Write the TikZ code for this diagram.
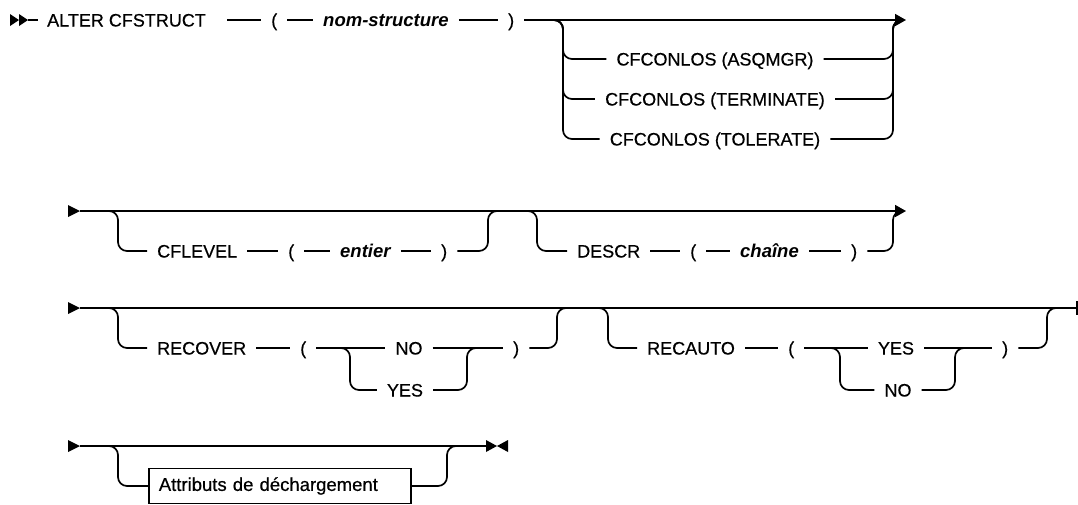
\documentclass[tikz,border=0pt]{standalone}
\usepackage{fontspec}
\setmainfont{Liberation Sans}
\newfontfamily\diagfont{Liberation Sans}[FakeBold=0.5]
\usetikzlibrary{arrows.meta}
\begin{document}
\begin{tikzpicture}[x=1pt,y=-1pt,
  ln/.style={line width=1.7pt, rounded corners=9pt},
  kw/.style={inner sep=0pt, anchor=west, font=\diagfont\fontsize{18}{20}\selectfont, text height=13pt, text depth=0pt},
  var/.style={kw, font=\fontsize{18.5}{20}\selectfont\bfseries\itshape},
  opt/.style={kw, anchor=center},
  sep/.style={ln, shorten <=10pt, shorten >=10pt},
  endarrow/.style={ln, -{Triangle[length=11pt,width=12pt]}},
  boxnode/.style={draw, line width=1.7pt, anchor=west, minimum height=35pt, text width=242pt, inner xsep=10pt, inner ysep=0pt, font=\diagfont\fontsize{18.5}{20}\selectfont}
]
\useasboundingbox (0,0) rectangle (1078,504);
% ---------- row 1
\fill (10,14) -- (19,20) -- (10,26) -- cycle;
\fill (19,14) -- (28,20) -- (19,26) -- cycle;
\coordinate (s1) at (28,20);
\coordinate (s1e) at (38,20);
\draw[ln] (s1) -- (s1e);
\node[kw] (alter) at (47,20) {ALTER CFSTRUCT};
\node[kw] (lp1) at (271,20) {(};
\node[var] (nom) at (323,20) {nom-structure};
\node[kw] (rp1) at (508,20) {)};
\coordinate (e1) at (906,20);
\draw[ln, shorten <=21pt, shorten >=10pt] (alter.east) -- (lp1.west);
\draw[sep] (lp1.east) -- (nom.west);
\draw[sep] (nom.east) -- (rp1.west);
\draw[endarrow, shorten <=10pt] (rp1.east) -- (e1);
\node[opt] (o1) at (715,59) {CFCONLOS (ASQMGR)};
\node[opt] (o2) at (715,99) {CFCONLOS (TERMINATE)};
\node[opt] (o3) at (715,139) {CFCONLOS (TOLERATE)};
\coordinate (b1) at (543,20);
\coordinate (j1) at (903,20);
\foreach \o/\y in {o1/59,o2/99,o3/139}{
  \draw[ln, shorten >=10pt] (b1) -| (563,\y) -- (\o.west);
  \draw[ln, shorten <=10pt] (\o.east) -| (893,20) -- (j1);
}
% ---------- row 2
\fill (68,205) -- (80,211) -- (68,217) -- cycle;
\coordinate (s2) at (80,211);
\coordinate (e2) at (906,211);
\draw[endarrow] (s2) -- (e2);
\node[kw] (cfl) at (157,251) {CFLEVEL};
\node[kw] (lp2) at (288,251) {(};
\node[var] (ent) at (340,251) {entier};
\node[kw] (rp2) at (441,251) {)};
\draw[ln, shorten >=10pt] (98,211) -| (118,251) -- (cfl.west);
\draw[sep] (cfl.east) -- (lp2.west);
\draw[sep] (lp2.east) -- (ent.west);
\draw[sep] (ent.east) -- (rp2.west);
\draw[ln, shorten <=10pt] (rp2.east) -| (488,211) -- (500,211);
\node[kw] (descr) at (577,251) {DESCR};
\node[kw] (lp3) at (690,251) {(};
\node[var] (ch) at (740,251) {chaîne};
\node[kw] (rp3) at (851,251) {)};
\draw[ln, shorten >=10pt] (517,211) -| (537,251) -- (descr.west);
\draw[sep] (descr.east) -- (lp3.west);
\draw[sep] (lp3.east) -- (ch.west);
\draw[sep] (ch.east) -- (rp3.west);
\draw[ln, shorten <=10pt] (rp3.east) -| (893,211) -- (903,211);
% ---------- row 3
\fill (68,302) -- (80,308) -- (68,314) -- cycle;
\coordinate (s3) at (80,308);
\coordinate (e3) at (1077,308);
\draw[ln] (s3) -- (e3);
\draw[line width=2pt] (1077,301) -- (1077,315);
\node[kw] (recover) at (157,348) {RECOVER};
\node[kw] (lp4) at (300,348) {(};
\node[opt] (no1) at (409,348) {NO};
\node[opt] (yes1) at (405,390) {YES};
\node[kw] (rp4) at (513,348) {)};
\draw[ln, shorten >=10pt] (98,308) -| (118,348) -- (recover.west);
\draw[sep] (recover.east) -- (lp4.west);
\draw[sep] (lp4.east) -- (no1.west);
\draw[ln, shorten >=10pt] (338,348) -| (350,390) -- (yes1.west);
\draw[sep] (no1.east) -- (rp4.west);
\draw[ln, shorten <=10pt] (yes1.east) -| (467,348) -- (479,348);
\draw[ln, shorten <=10pt] (rp4.east) -| (557,308) -- (570,308);
\node[kw] (recauto) at (647,348) {RECAUTO};
\node[kw] (lp5) at (788,348) {(};
\node[opt] (yes2) at (896,348) {YES};
\node[opt] (no2) at (898,390) {NO};
\node[kw] (rp5) at (1002,348) {)};
\draw[ln, shorten >=10pt] (588,308) -| (608,348) -- (recauto.west);
\draw[sep] (recauto.east) -- (lp5.west);
\draw[sep] (lp5.east) -- (yes2.west);
\draw[ln, shorten >=10pt] (828,348) -| (840,390) -- (no2.west);
\draw[sep] (yes2.east) -- (rp5.west);
\draw[ln, shorten <=10pt] (no2.east) -| (955,348) -- (967,348);
\draw[ln, shorten <=10pt] (rp5.east) -| (1047,308) -- (1060,308);
% ---------- row 4
\fill (68,440) -- (80,446) -- (68,452) -- cycle;
\coordinate (s4) at (80,446);
\coordinate (e4) at (486,446);
\draw[ln] (s4) -- (e4);
\fill (486,440) -- (497,446) -- (486,452) -- cycle;
\fill (508,440) -- (497,446) -- (508,452) -- cycle;
\node[boxnode] (attr) at (148,486) {Attributs de déchargement};
\draw[ln] (98,446) -| (118,486) -- (attr.west);
\draw[ln] (attr.east) -| (447,446) -- (460,446);
\end{tikzpicture}
\end{document}
